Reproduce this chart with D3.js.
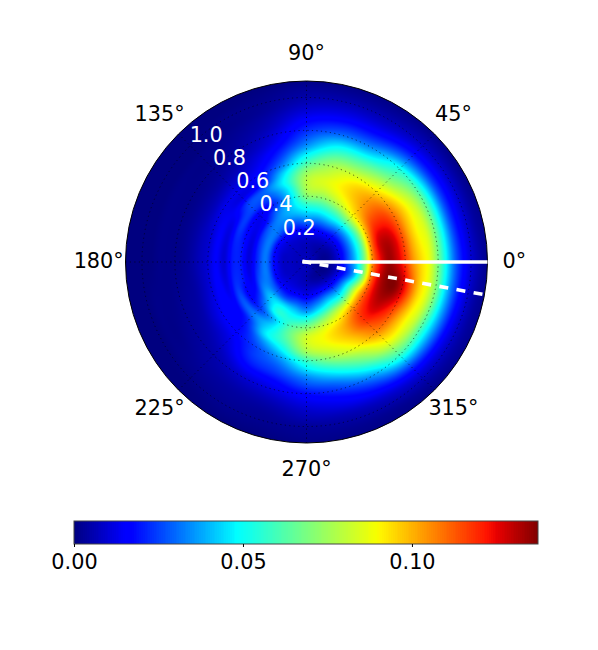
<!DOCTYPE html>
<html>
<head>
<meta charset="utf-8">
<script src="https://cdn.jsdelivr.net/npm/d3@7"></script>
<style>
  html, body { margin: 0; padding: 0; background: #fff; }
  text { font-family: "DejaVu Sans", sans-serif; font-size: 20.8px; }
</style>
</head>
<body>
<div id="chart"></div>
<script>
// radial nodes of the table, data units
var radii = [0,.05,.1,.15,.2,.25,.3,.35,.4,.45,.5,.55,.6,.65,.7,.75,.8,.85,.9,.95,1,1.05,1.1];

// one column per angle (0, 15, ... 345 deg), values in units of 0.001
var col000 = [8,5,2,4,12,26,42,68,105,124,134,129,118,104,94,86,68,48,30,18,10,5,2];
var col015 = [8,5,2,4,12,25,42,66,104,126,131,126,114,100,90,84,68,47,28,16,9,4,2];
var col030 = [8,6,3,5,12,25,42,66,96,114,118,116,108,98,88,78,64,45,27,16,9,4,1];
var col045 = [8,6,4,7,14,26,44,68,90,100,104,102,94,84,72,62,52,36,23,14,8,4,1];
var col060 = [8,6,5,8,16,30,46,62,80,90,94,92,84,72,60,46,34,24,16,10,6,3,1];
var col075 = [8,7,6,9,17,30,44,58,72,82,86,82,76,66,54,42,30,22,15,10,6,3,1];
var col090 = [8,7,7,10,19,32,44,56,70,77,78,72,60,48,36,28,22,17,12,8,5,3,1];
var col105 = [8,7,7,10,17,28,39,43,42,45,50,44,32,24,18,13,10,7,5,3,2,1,0];
var col120 = [8,7,8,10,17,29,35,31,21,27,30,18,16,12,9,6,4,3,2,1,1,0,0];
var col135 = [8,7,8,10,17,31,30,17,14,25,25,12,13,9,5,3,2,1,1,0,0,0,0];
var col150 = [8,7,8,10,16,32,26,13,16,24,14,14,12,7,4,2,1,1,1,0,0,0,0];
var col165 = [8,7,8,9,17,32,23,11,19,21,11,15,10,7,4,2,1,1,1,0,0,0,0];
var col180 = [8,7,8,9,18,32,22,11,20,20,10,15,10,7,4,2,1,1,1,0,0,0,0];
var col195 = [8,7,8,9,17,32,26,13,20,22,12,16,11,7,4,3,2,1,1,1,0,0,0];
var col210 = [8,7,8,9,15,30,33,19,16,27,16,17,14,10,6,4,3,2,1,1,0,0,0];
var col225 = [8,7,8,10,15,28,42,34,24,32,22,18,17,13,10,7,5,4,3,2,1,0,0];
var col240 = [8,7,8,10,15,26,46,54,40,44,46,34,26,24,20,14,9,6,4,3,2,1,0];
var col255 = [8,7,7,9,15,27,42,52,60,64,60,50,38,30,24,17,12,8,5,3,2,1,0];
var col270 = [8,7,6,8,13,24,36,54,70,82,82,74,58,46,34,26,18,13,9,6,3,2,1];
var col285 = [8,6,4,8,16,30,46,66,82,90,90,84,74,60,46,33,24,17,12,7,4,2,1];
var col300 = [8,5,3,7,18,36,55,78,92,100,100,95,88,76,64,50,36,25,16,9,5,2,1];
var col315 = [8,4,2,6,16,34,55,84,106,116,118,112,106,96,86,72,58,40,24,13,7,3,1];
var col330 = [8,3,1,4,14,32,58,88,112,125,130,125,115,102,90,80,62,44,28,15,8,4,2];
var col345 = [8,3,1,3,10,22,40,70,108,128,136,137,128,112,96,86,70,48,30,17,9,4,2];

var columns = [col000,col015,col030,col045,col060,col075,col090,col105,col120,col135,col150,col165,
               col180,col195,col210,col225,col240,col255,col270,col285,col300,col315,col330,col345];

var vmax = 0.1373;
var ringTicks = [0.2,0.4,0.6,0.8,1.0];
var angleTicks = [0,45,90,135,180,225,270,315];
var barTicks = [0,0.05,0.10];

// the two white reference lines: angle in degrees, radial extent
var refAngles = [0,-10.4];
var refStart = -0.025;
var refEnd = 1.1;

// jet
var jetStops = [0,.11,.125,.34,.35,.375,.64,.65,.66,.89,.91,1];
var jetColors = ["#000080","#0000ff","#0000ff","#00f0ff","#00ffff","#10ffee","#eeff08","#f5ff00","#fff600","#ff1300","#e80000","#800000"];

var width = 598, height = 650;
var cx = 306.5, cy = 262;
var rmax = 1.1;

var rScale = d3.scaleLinear().domain([0,rmax]).range([0,181]);
var color = d3.scaleLinear().domain(jetStops.map(d => d*vmax)).range(jetColors).clamp(true);

var svg = d3.select("#chart").append("svg")
  .attr("width", width)
  .attr("height", height)
  .style("display","block");

// catmull-rom through the table nodes
function cr(p0,p1,p2,p3,t) {
  return 0.5*((2*p1)+(-p0+p2)*t+(2*p0-5*p1+4*p2-p3)*t*t+(-p0+3*p1-3*p2+p3)*t*t*t);
}

function fieldAt(r, deg) {
  var na = columns.length, nr = radii.length;
  var a = ((deg%360)+360)%360/(360/na);
  var rp = r/(radii[1]-radii[0]);
  var ai = Math.floor(a), ri = Math.min(Math.floor(rp), nr-2);
  var ta = a-ai, tr = rp-ri;
  var rows = [];
  for (var k=-1;k<=2;k++) {
    var c = columns[(ai+k+na)%na];
    var g = i => c[Math.max(0,Math.min(nr-1,i))];
    rows.push(cr(g(ri-1),g(ri),g(ri+1),g(ri+2),tr));
  }
  return Math.max(0, cr(rows[0],rows[1],rows[2],rows[3],ta))*0.001;
}

// paint the field
var R = Math.ceil(rScale(rmax))+1;
var canvas = document.createElement("canvas");
canvas.width = canvas.height = 2*R;
var ctx = canvas.getContext("2d");
var img = ctx.createImageData(2*R,2*R);
for (var py=0;py<2*R;py++) {
  for (var px=0;px<2*R;px++) {
    var dx = px+0.5-R, dy = R-py-0.5;
    var rr = rScale.invert(Math.sqrt(dx*dx+dy*dy));
    if (rr>rmax+0.02) continue;
    var c = d3.rgb(color(fieldAt(Math.min(rr,rmax), Math.atan2(dy,dx)*180/Math.PI)));
    var o = 4*(py*2*R+px);
    img.data[o]=c.r; img.data[o+1]=c.g; img.data[o+2]=c.b; img.data[o+3]=255;
  }
}
ctx.putImageData(img,0,0);

svg.append("clipPath").attr("id","disc")
  .append("circle").attr("cx",cx).attr("cy",cy).attr("r",rScale(rmax));

svg.append("image")
  .attr("x",cx-R).attr("y",cy-R)
  .attr("width",2*R).attr("height",2*R)
  .attr("clip-path","url(#disc)")
  .attr("href",canvas.toDataURL());

var polar = svg.append("g").attr("transform",`translate(${cx},${cy})`);

// grid
polar.selectAll("circle.ring").data(ringTicks).enter().append("circle")
  .attr("class","ring")
  .attr("r",d => rScale(d))
  .attr("fill","none").attr("stroke","#000").attr("stroke-width",1)
  .attr("stroke-opacity",0.6)
  .attr("stroke-dasharray","1.2,3.3");

polar.selectAll("line.spoke").data(angleTicks).enter().append("line")
  .attr("class","spoke")
  .attr("x2",d => rScale(rmax)*Math.cos(d*Math.PI/180))
  .attr("y2",d => -rScale(rmax)*Math.sin(d*Math.PI/180))
  .attr("stroke","#000").attr("stroke-width",1)
  .attr("stroke-opacity",0.6)
  .attr("stroke-dasharray","1.2,3.3");

// outline
polar.append("circle").attr("r",rScale(rmax))
  .attr("fill","none").attr("stroke","#000").attr("stroke-width",1);

// white lines
var radial = d3.lineRadial()
  .angle(d => (90-d[0])*Math.PI/180)
  .radius(d => rScale(d[1]));

polar.selectAll("path.ref").data(refAngles).enter().append("path")
  .attr("class","ref")
  .attr("d",d => radial([[d,refStart],[d,refEnd]]))
  .attr("fill","none").attr("stroke","#fff").attr("stroke-width",3.6)
  .attr("stroke-dasharray",(d,i) => i ? "9,8.4" : null);

// labels
polar.selectAll("text.angle").data(angleTicks).enter().append("text")
  .attr("class","angle")
  .attr("x",d => rScale(1.263)*Math.cos(d*Math.PI/180))
  .attr("y",d => -rScale(1.263)*Math.sin(d*Math.PI/180))
  .attr("text-anchor","middle")
  .attr("dy","0.28em")
  .text(d => d+"°");

polar.selectAll("text.ringLabel").data(ringTicks).enter().append("text")
  .attr("class","ringLabel")
  .attr("x",d => rScale(d)*Math.cos(135*Math.PI/180)+16)
  .attr("y",d => -rScale(d)*Math.sin(135*Math.PI/180)-4)
  .attr("text-anchor","middle")
  .attr("fill","#fff")
  .text(d => d.toFixed(1));

// colorbar
var barX = d3.scaleLinear().domain([0,vmax]).range([74,538]);
var barY = 521, barH = 23;
var levels = d3.range(256);

svg.selectAll("rect.level").data(levels).enter().append("rect")
  .attr("class","level")
  .attr("x",d => barX(d/256*vmax))
  .attr("y",barY)
  .attr("width",464/256+0.3)
  .attr("height",barH)
  .attr("shape-rendering","crispEdges")
  .attr("fill",d => color((d+0.5)/256*vmax));

svg.append("rect")
  .attr("x",74).attr("y",barY).attr("width",464).attr("height",barH)
  .attr("fill","none").attr("stroke","#444").attr("stroke-width",1);

var barAxis = d3.axisBottom(barX)
  .tickValues(barTicks)
  .tickSize(3)
  .tickPadding(7)
  .tickFormat(d3.format(".2f"));

var barG = svg.append("g")
  .attr("transform",`translate(0,${barY+barH})`)
  .call(barAxis);
barG.select(".domain").remove();
barG.selectAll("text").style("font-size","20.8px").style("font-family","'DejaVu Sans', sans-serif");
</script>
</body>
</html>
